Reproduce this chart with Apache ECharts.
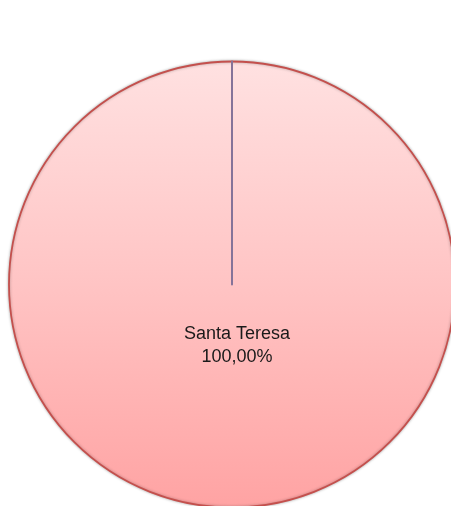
<!DOCTYPE html>
<html><head><meta charset="utf-8">
<style>html,body{margin:0;padding:0;background:#fff}#c{width:451px;height:506px}</style>
<script src="https://cdn.jsdelivr.net/npm/echarts@6/dist/echarts.min.js"></script>
</head><body><div id="c"></div>
<script>
const categories = ['Santa Teresa', ''];
const values = [100, 0];
const labels = ['100,00%', ''];

const chart = echarts.init(document.getElementById('c'), null, {renderer:'canvas'});
const data = categories.map((n, i) => {
  const item = {name: n, value: values[i], pct: labels[i]};
  if (i === 1) {
    item.label = {show: false};
    item.itemStyle = {borderColor: '#857399', borderWidth: 2, color: 'transparent', shadowBlur: 0};
  }
  return item;
});
chart.setOption({
  animation: false,
  series: [{
    type: 'pie',
    center: [232, 284.5],
    radius: [0, 223],
    startAngle: 90,
    clockwise: true,
    avoidLabelOverlap: false,
    silent: true,
    itemStyle: {
      color: new echarts.graphic.LinearGradient(0, 0, 0, 1, [
        {offset: 0, color: '#ffe1e1'},
        {offset: 0.5, color: '#ffc4c4'},
        {offset: 1, color: '#ffa3a3'}
      ]),
      borderColor: '#c4504d',
      borderWidth: 1.8,
      shadowBlur: 3,
      shadowColor: 'rgba(0,0,0,0.3)'
    },
    label: {
      show: true,
      position: 'center',
      formatter: p => '{s|}\n{a|' + p.name + '}\n{a|' + p.data.pct + '}',
      rich: {
        s: {height: 123, lineHeight: 123},
        a: {fontFamily: 'Liberation Sans, Arial, sans-serif', fontSize: 18, lineHeight: 23, color: '#1a1a1a', padding: [0, 0, 0, 10]}
      }
    },
    labelLine: {show: false},
    data: data
  }]
});
</script></body></html>
